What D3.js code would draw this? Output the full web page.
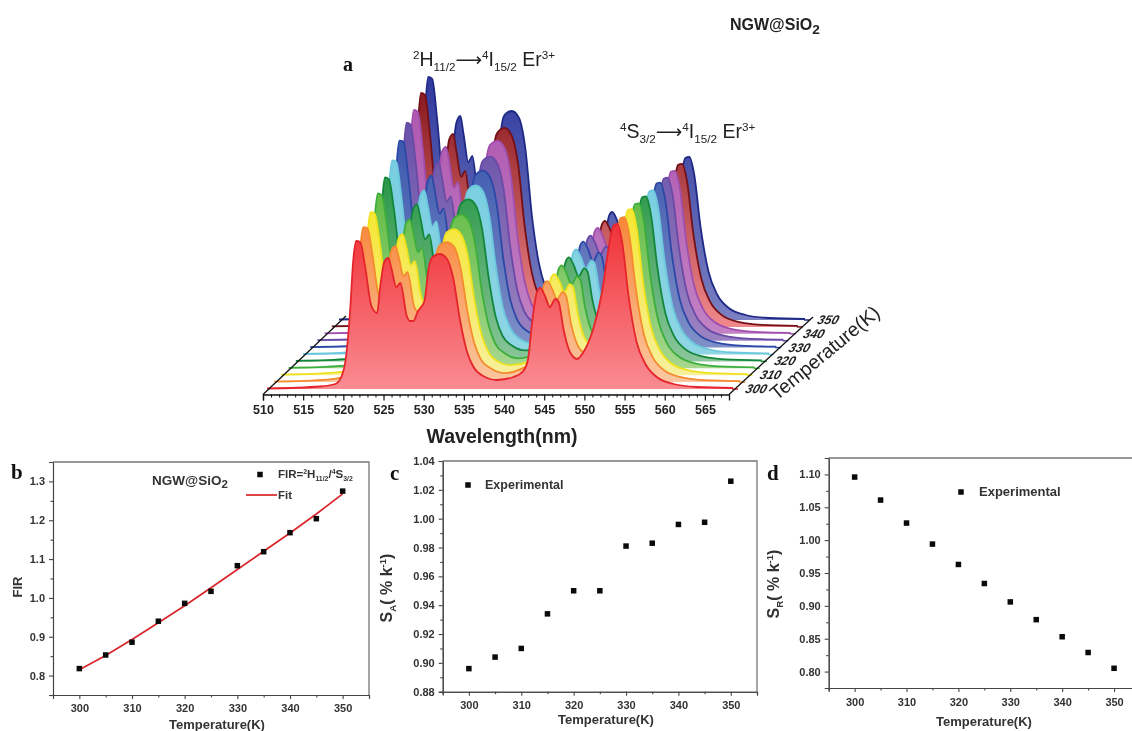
<!DOCTYPE html>
<html><head><meta charset="utf-8">
<script src="https://d3js.org/d3.v7.min.js"></script>
<style>
html,body{margin:0;padding:0;background:#fff}
svg{display:block;font-family:"Liberation Sans",Arial,sans-serif;filter:blur(0.4px)}
</style></head><body><svg id="c" width="1132" height="731"></svg>
<script>
// ---- panel a data ----
const wavelengths=[510,516.6,518.5,519.3,519.8,520.3,520.75,521.1,521.6,522.2,523,523.7,524.1,524.6,525.1,525.5,526.1,526.6,527.4,527.8,528.2,528.8,529.6,530.1,530.6,531.5,532.4,533.2,534,534.9,535.7,536.9,538.6,540.7,541.9,542.5,543,543.6,544,544.6,545.2,545.9,546.3,546.9,547.7,548.6,549.4,550.6,551.7,552.5,553.1,553.6,554.2,555,556,557.1,558.5,560.6,563.5,568];
const temperaturesA=[300,305,310,315,320,325,330,335,340,345,350];
const spec300=[0.5,2.5,5,13,30,73,130,148,147,123,83,76,103,127,131,120,102,106,73,68,68,78,88,120,132,135,130,110,70,37,22,13,9,12,18,30,67,97,101,93,82,90,87,60,37,30,37,60,97,140,163,165,147,93,47,25,12,5,2,1];
const spec305=[0.5,2.5,5,13,32,77,137,155,154,129,87,80,107,132,136,125,106,110,76,71,71,81,92,125,137,140,135,114,73,39,23,14,9,13,19,31,67,98,101,93,83,90,87,60,38,30,37,60,97,140,164,165,147,94,48,25,12,5,2,1];
const spec310=[0.5,2.5,5,13,33,80,143,163,162,135,91,84,111,137,141,130,110,114,79,73,73,84,95,130,143,146,140,119,76,41,24,14,10,13,20,33,68,98,101,94,83,91,88,61,38,30,37,60,97,141,165,166,148,94,48,25,12,5,2,1];
const spec315=[0.5,2.5,5,13,35,86,153,175,173,145,98,90,117,145,149,137,116,121,83,78,78,89,100,137,150,154,148,125,80,43,25,15,10,14,21,34,68,99,103,95,84,92,89,61,38,31,37,60,97,141,164,165,148,94,48,25,12,5,2,1];
const spec320=[0.5,2.5,5,13,37,91,161,184,182,153,103,94,124,152,157,144,122,127,88,82,82,94,106,144,158,162,156,132,84,44,26,16,11,14,22,36,69,100,104,96,85,93,90,62,39,31,37,60,97,140,164,165,147,94,48,25,12,5,2,1];
const spec325=[0.5,2.5,5,13,39,96,170,194,193,161,109,100,129,159,164,150,128,133,91,85,85,98,110,150,165,169,163,138,88,46,28,16,11,15,23,37,70,101,105,97,86,94,91,63,39,32,37,60,96,140,163,164,147,94,48,25,12,5,2,1];
const spec330=[0.5,2.5,5,13,42,102,182,207,206,172,116,106,135,166,172,157,134,139,96,89,89,102,115,157,173,177,170,144,91,48,29,17,12,16,23,39,70,102,106,98,86,95,91,63,40,32,38,60,96,140,164,165,147,94,48,25,12,5,2,1];
const spec335=[0.5,2.5,5,13,44,107,191,218,216,181,122,112,140,173,178,163,139,144,99,92,92,106,120,163,180,184,177,150,94,50,30,18,12,16,24,40,70,101,105,97,86,94,91,63,40,32,38,60,96,139,162,163,146,93,48,25,12,5,2,1];
const spec340=[0.5,2.5,5,13,45,110,196,224,222,186,125,115,147,182,187,172,146,152,104,97,97,112,126,172,189,193,186,157,98,52,31,18,13,17,25,42,71,102,106,98,87,95,92,64,40,32,38,60,96,139,162,163,146,93,48,25,12,5,2,1];
const spec345=[0.5,2.5,5,13,47,115,205,234,232,194,131,120,151,187,193,176,150,156,107,100,100,115,129,176,194,199,191,162,101,54,32,19,13,17,26,43,71,102,106,98,87,95,92,64,40,33,38,60,96,139,162,163,146,93,48,25,12,5,2,1];
const spec350=[0.5,2.5,5,13,49,120,213,243,241,202,136,125,160,197,204,186,158,164,113,105,105,121,136,186,205,209,202,171,105,56,33,20,14,18,27,45,72,104,108,100,88,97,93,64,41,33,38,60,96,139,162,163,146,93,48,25,12,5,2,1];
const spectra=[spec300,spec305,spec310,spec315,spec320,spec325,spec330,spec335,spec340,spec345,spec350];
const lineColors=["#e5242b","#f58a2e","#efe11c","#3cae3c","#12873a","#6cc8dc","#2c48a6","#6a4aa6","#9f4fae","#741016","#1f2a86"];
const topColors=["#f03338","#f8863a","#f6e632","#62bc45","#2a9748","#78cee0","#3c58ae","#6850a8","#b058b0","#8a1a20","#303a9e"];
const bottomColors=["#f98c92","#fbc7a0","#f7f09c","#a6d78e","#8ac69a","#8fd6e4","#7f90c8","#9a82c2","#c282c4","#f0888c","#7a80c2"];
const waveTicks=[510,515,520,525,530,535,540,545,550,555,560,565];
const depthTicks=[300,310,320,330,340,350];
// ---- lower panels data ----
const tempK=[300,305,310,315,320,325,330,335,340,345,350];
const firValues=[0.818,0.853,0.886,0.94,0.986,1.017,1.083,1.119,1.168,1.204,1.275];
const firFit=[0.815,0.852,0.893,0.936,0.98,1.026,1.073,1.12,1.167,1.216,1.268];
const saValues=[0.896,0.904,0.91,0.934,0.95,0.95,0.981,0.983,0.996,0.9975,1.026];
const srValues=[1.096,1.061,1.026,0.994,0.963,0.934,0.906,0.879,0.853,0.829,0.805];

const svg=d3.select("#c");
const defs=svg.append("defs");
const SANS='"Liberation Sans",Arial,sans-serif', SERIF='"Liberation Serif","Times New Roman",serif';

function rich(sel,parts){ // parts: [text, kind]
  let last='n';
  parts.forEach(([t,k])=>{
    const size=sel.attr("data-fs")*1;
    const shift={n:0,arrow:0,sub:size*0.28,subL:size*0.22,sup:-size*0.38};
    const ts=sel.append("tspan").text(t);
    ts.attr("dy",shift[k]-shift[last]);
    if(k==='sub'||k==='sup') ts.attr("font-size",size*0.6);
    if(k==='subL') ts.attr("font-size",size*0.85);
    if(k==='arrow') ts.attr("font-family",'"DejaVu Sans"').attr("font-size",size*0.95);
    last=k;
  });
  return sel;
}
function richText(x,y,size,weight,parts,anchor,col){
  const t=svg.append("text").attr("x",x).attr("y",y).attr("font-size",size).attr("data-fs",size)
    .attr("font-weight",weight).attr("fill",col||"#222").attr("text-anchor",anchor||"start");
  return rich(t,parts);
}
// ---------- panel a ----------
const xW=d3.scaleLinear().domain([510,568]).range([263,729]);
const depthX=d3.scaleLinear().domain([300,350]).range([4,76]);
const depthBase=d3.scaleLinear().domain([300,350]).range([389,320]);
const yI=d3.scaleLinear().domain([0,100]).range([0,-100]);

temperaturesA.map((T,i)=>i).reverse().forEach(i=>{
  const T=temperaturesA[i];
  const id="grad"+T;
  const g=defs.append("linearGradient").attr("id",id).attr("x1",0).attr("x2",0).attr("y1",0).attr("y2",1);
  g.append("stop").attr("offset","0").attr("stop-color",topColors[i]);
  g.append("stop").attr("offset","1").attr("stop-color",bottomColors[i]);
  const pts=wavelengths.map((w,k)=>[w,spectra[i][k]]);
  const px=d=>xW(d[0])+depthX(T);
  const area=d3.area().x(px).y0(depthBase(T)).y1(d=>depthBase(T)+yI(d[1])).curve(d3.curveMonotoneX);
  const line=d3.line().x(px).y(d=>depthBase(T)+yI(d[1])).curve(d3.curveMonotoneX);
  svg.append("path").attr("d",area(pts)).attr("fill",`url(#${id})`);
  svg.append("path").attr("d",line(pts)).attr("fill","none").attr("stroke",lineColors[i]).attr("stroke-width",1.8).attr("stroke-linejoin","round");
  svg.append("line").attr("x1",xW(568)+depthX(T)-1).attr("x2",xW(568)+depthX(T)+5)
    .attr("y1",depthBase(T)).attr("y2",depthBase(T)).attr("stroke",lineColors[i]).attr("stroke-width",1.5);
});
// wavelength axis
const axW=svg.append("g").attr("transform","translate(0,394.5)")
  .call(d3.axisBottom(xW).tickValues(waveTicks).tickSize(6).tickPadding(5).tickFormat(d3.format("d")));
axW.selectAll("text").attr("font-size",12.5).attr("font-weight","bold").attr("fill","#222").attr("font-family",SANS);
axW.select(".domain").attr("stroke","#111").attr("stroke-width",1.3);
axW.selectAll(".tick line").attr("stroke","#111").attr("stroke-width",1.2);
svg.append("g").attr("transform","translate(0,394.5)")
  .call(d3.axisBottom(xW).tickValues(d3.range(510,568,1).filter(v=>v%5)).tickSize(3).tickFormat(""))
  .call(g=>{g.select(".domain").remove();g.selectAll("line").attr("stroke","#111")});
// side edges
const edgeL=d3.line().x(d=>xW(d[0])+d[1]).y(d=>d[2]);
svg.append("path").attr("d",edgeL([[510,0,394.5],[510,83,316]])).attr("stroke","#111").attr("stroke-width",1.3).attr("fill","none");
svg.append("path").attr("d",edgeL([[568,0,394.5],[568,84,317]])).attr("stroke","#111").attr("stroke-width",1.3).attr("fill","none");
// depth tick labels
depthTicks.forEach(T=>{
  const lx=xW(568)+depthX(T)+22, ly=depthBase(T)+4;
  svg.append("text").attr("transform",`translate(${lx},${ly}) skewX(-18)`).attr("text-anchor","middle")
    .attr("font-size",12.5).attr("font-weight","bold").attr("font-style","italic").attr("fill","#222").text(T);
});
svg.append("text").attr("transform","translate(829,358) rotate(-39.5)").attr("text-anchor","middle")
  .attr("font-size",19.5).attr("fill","#222").text("Temperature(K)");
svg.append("text").attr("x",502).attr("y",443).attr("text-anchor","middle").attr("font-size",19.5).attr("font-weight","bold").attr("fill","#222").text("Wavelength(nm)");
svg.append("text").attr("x",343).attr("y",71).attr("font-family",SERIF).attr("font-size",20).attr("font-weight","bold").attr("fill","#111").text("a");
richText(413,66,19.5,"normal",[["2","sup"],["H","n"],["11/2","sub"],["⟶","arrow"],["4","sup"],["I","n"],["15/2","sub"],[" Er","n"],["3+","sup"]]);
richText(620,138,19.5,"normal",[["4","sup"],["S","n"],["3/2","sub"],["⟶","arrow"],["4","sup"],["I","n"],["15/2","sub"],[" Er","n"],["3+","sup"]]);
richText(730,30,16,"bold",[["NGW@SiO","n"],["2","subL"]]);

// ---------- lower panels ----------
function panel(o){
  const x=d3.scaleLinear().domain([295,355]).range([o.l,o.r]);
  const y=d3.scaleLinear().domain(o.yDom).range([o.b,o.t]);
  const g=svg.append("g");
  g.append("g").attr("transform",`translate(0,${o.b})`)
    .call(d3.axisBottom(x).tickValues(d3.range(300,351,10)).tickSize(4).tickPadding(o.xPad).tickFormat(d3.format("d")));
  g.append("g").attr("transform",`translate(${o.l},0)`)
    .call(d3.axisLeft(y).tickValues(o.yTicks).tickSize(4).tickPadding(4).tickFormat(d3.format(o.fmt)));
  g.append("g").attr("transform",`translate(0,${o.b})`).call(d3.axisBottom(x).tickValues(d3.range(295,356,5).filter(v=>v%10)).tickSize(2.5).tickFormat(""));
  g.append("g").attr("transform",`translate(${o.l},0)`).call(d3.axisLeft(y).tickValues(o.yMinor).tickSize(2.5).tickFormat(""));
  g.selectAll("text").attr("font-size",11).attr("font-weight","bold").attr("fill","#333").attr("font-family",SANS);
  g.selectAll(".domain,.tick line").attr("stroke","#444").attr("stroke-width",1.1);
  g.append("path").attr("d",d3.line()([[o.l,o.t],[o.r,o.t],[o.r,o.b]])).attr("fill","none").attr("stroke","#777").attr("stroke-width",1.3);
  if(o.fit) g.append("path").datum(tempK.map((t,i)=>[t,o.fit[i]]))
     .attr("d",d3.line().x(d=>x(d[0])).y(d=>y(d[1]))).attr("fill","none").attr("stroke","#d9252b").attr("stroke-width",1.7);
  g.selectAll("rect.pt").data(tempK.map((t,i)=>[t,o.vals[i]])).join("rect").attr("class","pt")
    .attr("x",d=>x(d[0])-2.75).attr("y",d=>y(d[1])-2.75).attr("width",5.5).attr("height",5.5).attr("fill","#0a0a0a");
}
panel({l:53,r:369,t:462,b:695,yDom:[0.75,1.35],yTicks:[0.8,0.9,1.0,1.1,1.2,1.3],yMinor:[0.75,0.85,0.95,1.05,1.15,1.25,1.35],fmt:".1f",vals:firValues,fit:firFit,xPad:5});
panel({l:442.7,r:757,t:461,b:691.7,yDom:[0.88,1.04],yTicks:[0.88,0.9,0.92,0.94,0.96,0.98,1,1.02,1.04],yMinor:[0.89,0.91,0.93,0.95,0.97,0.99,1.01,1.03],fmt:".2f",vals:saValues,xPad:6});
panel({l:828.7,r:1140,t:458,b:688,yDom:[0.775,1.125],yTicks:[0.8,0.85,0.9,0.95,1,1.05,1.1],yMinor:[0.775,0.825,0.875,0.925,0.975,1.025,1.075,1.125],fmt:".2f",vals:srValues,xPad:6});

function legendSq(x,y){svg.append("rect").attr("x",x-2.75).attr("y",y-2.75).attr("width",5.5).attr("height",5.5).attr("fill","#0a0a0a");}
function serifLabel(x,y,t){svg.append("text").attr("x",x).attr("y",y).attr("font-family",SERIF).attr("font-size",21).attr("font-weight","bold").attr("fill","#111").text(t);}
serifLabel(11,479,"b");serifLabel(390,480,"c");serifLabel(767,480,"d");
// b extras
richText(152,485,13.5,"bold",[["NGW@SiO","n"],["2","subL"]],"start","#333");
legendSq(260,474.5);
richText(278,478,11.5,"bold",[["FIR=","n"],["2","sup"],["H","n"],["11/2","sub"],["/","n"],["4","sup"],["S","n"],["3/2","sub"]],"start","#333");
svg.append("line").attr("x1",246).attr("x2",277).attr("y1",495).attr("y2",495).attr("stroke","#d9252b").attr("stroke-width",1.7);
svg.append("text").attr("x",278).attr("y",498.5).attr("font-size",11.5).attr("font-weight","bold").attr("fill","#333").text("Fit");
const xl=(x,y,t)=>svg.append("text").attr("x",x).attr("y",y).attr("text-anchor","middle").attr("font-size",13).attr("font-weight","bold").attr("fill","#333").text(t);
xl(217,729,"Temperature(K)");xl(606,724,"Temperature(K)");xl(984,726,"Temperature(K)");
svg.append("text").attr("transform","translate(22,587) rotate(-90)").attr("text-anchor","middle").attr("font-size",13).attr("font-weight","bold").attr("fill","#333").text("FIR");
function yTitle(x,y,sub){
  const t=svg.append("text").attr("transform",`translate(${x},${y}) rotate(-90)`).attr("text-anchor","middle")
    .attr("font-size",16).attr("data-fs",16).attr("font-weight","bold").attr("fill","#333");
  rich(t,[["S","n"],[sub,"sub"],["( % k","n"],["-1","sup"],[")","n"]]);
}
yTitle(392,588,"A");yTitle(779,584,"R");
// c, d legends
legendSq(468,485);
svg.append("text").attr("x",485).attr("y",489).attr("font-size",12.5).attr("font-weight","bold").attr("fill","#333").text("Experimental");
legendSq(961,492);
svg.append("text").attr("x",979).attr("y",496).attr("font-size",13).attr("font-weight","bold").attr("fill","#333").text("Experimental");
</script></body></html>
